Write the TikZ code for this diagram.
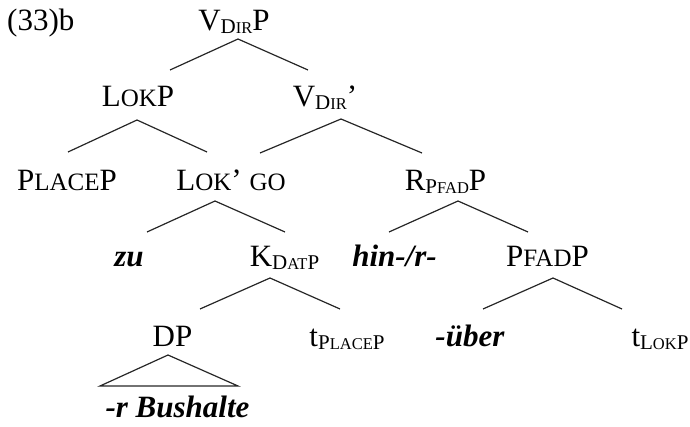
\documentclass[tikz,border=0pt]{standalone}
\usepackage{fontspec}
\setmainfont{Liberation Serif}
\newcommand\mysc[1]{{\fontsize{25}{27}\selectfont #1}}
\newcommand\sbig[1]{{\fontsize{21}{22}\selectfont #1}}
\newcommand\ssm[1]{{\fontsize{16.5}{18}\selectfont #1}}
\newcommand\lowr[1]{\raisebox{-3pt}{#1}}
\newcommand\bi[1]{\textbf{\textit{#1}}}
\tikzset{
  lbl/.style={anchor=base, inner sep=0pt, font=\fontsize{31}{34}\selectfont, text=black},
  branch/.style={line width=1.2pt, draw=black!85}
}
\begin{document}
\begin{tikzpicture}[x=1pt,y=-1pt]
\useasboundingbox (0,0) rectangle (690,427);
% labels
\node[lbl, anchor=base west] (ex) at (7,31) {(33)b};
\node[lbl] (vdirp) at (234,31) {V\lowr{\sbig{D}\ssm{IR}}P};
\node[lbl] (lokp) at (138,107) {L\mysc{OK}P};
\node[lbl] (vdirbar) at (325,107) {V\lowr{\sbig{D}\ssm{IR}}’};
\node[lbl] (placep) at (67,191) {P\mysc{LACE}P};
\node[lbl] (lokbar) at (231,191) {L\mysc{OK}’ \mysc{GO}};
\node[lbl] (rpfadp) at (445.5,191) {R\lowr{\sbig{P}\ssm{FAD}}P};
\node[lbl] (zu) at (129,267) {\bi{zu}};
\node[lbl] (kdatp) at (284.5,267) {K\lowr{\sbig{D}\ssm{AT}\sbig{P}}};
\node[lbl] (hin) at (394.5,267) {\bi{hin-/r-}};
\node[lbl] (pfadp) at (547.5,267) {P\mysc{FAD}P};
\node[lbl] (dp) at (172.5,346) {DP};
\node[lbl] (tplace) at (347,346) {t\lowr{\sbig{P}\ssm{LACE}\sbig{P}}};
\node[lbl] (ueber) at (470,346) {\bi{-über}};
\node[lbl] (tlok) at (660,346) {t\lowr{\sbig{L}\ssm{OK}\sbig{P}}};
\node[lbl] (bus) at (177.5,417) {\bi{-r Bushalte}};
% branch points
\coordinate (a1) at (238,39);  \coordinate (l1) at (170,70);  \coordinate (r1) at (308,70);
\coordinate (a2) at (137,120); \coordinate (l2) at (68,152);  \coordinate (r2) at (207,152);
\coordinate (a3) at (341,119); \coordinate (l3) at (260,153); \coordinate (r3) at (422,153);
\coordinate (a4) at (215,201); \coordinate (l4) at (147,232); \coordinate (r4) at (285,232);
\coordinate (a5) at (458,201); \coordinate (l5) at (389,232); \coordinate (r5) at (528,232);
\coordinate (a6) at (270,278); \coordinate (l6) at (200,309); \coordinate (r6) at (340,309);
\coordinate (a7) at (553,278); \coordinate (l7) at (483,309); \coordinate (r7) at (622,309);
\coordinate (a8) at (168,355); \coordinate (l8) at (100,386); \coordinate (r8) at (238,386);
\draw[branch] (l1) -- (a1) -- (r1);
\draw[branch] (l2) -- (a2) -- (r2);
\draw[branch] (l3) -- (a3) -- (r3);
\draw[branch] (l4) -- (a4) -- (r4);
\draw[branch] (l5) -- (a5) -- (r5);
\draw[branch] (l6) -- (a6) -- (r6);
\draw[branch] (l7) -- (a7) -- (r7);
\draw[branch] (l8) -- (a8) -- (r8) -- cycle;
\end{tikzpicture}
\end{document}
